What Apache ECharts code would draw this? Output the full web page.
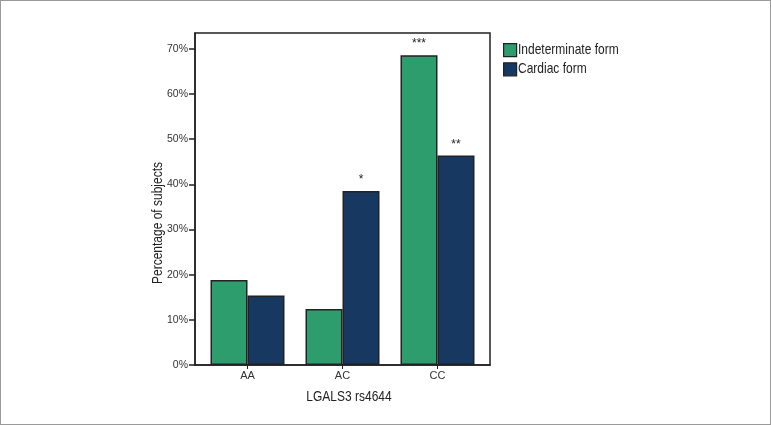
<!DOCTYPE html>
<html><head><meta charset="utf-8">
<script src="https://cdn.jsdelivr.net/npm/echarts@6/dist/echarts.min.js"></script>
<style>html,body{margin:0;padding:0;background:#fff}#c{width:771px;height:425px;box-sizing:border-box;border:1px solid #9a9a9a}</style>
</head><body><div id="c"></div>
<script>
const categories = ['AA', 'AC', 'CC'];
const seriesNames = ['Indeterminate form', 'Cardiac form'];
const indeterminate = [18.8, 12.4, 68.6];
const cardiac = [15.4, 38.5, 46.4];
const indeterminateMarks = ['', '', '***'];
const cardiacMarks = ['', '*', '**'];
const yTicks = [0, 10, 20, 30, 40, 50, 60, 70];
const xTitle = 'LGALS3 rs4644';
const yTitle = 'Percentage of subjects';
const yMax = 73.5;

const chart = echarts.init(document.getElementById('c'));
const font = '"Liberation Sans", Arial, sans-serif';
function lbl(marks){
  return {show:true, position:'top', distance:5, color:'#222', fontSize:12, fontFamily:font,
    formatter:p=>marks[p.dataIndex]};
}
function narrowText(text, x, y, opts){
  return Object.assign({type:'text', x:x, y:y, scaleX:0.8, silent:true,
    style:{text:text, fontFamily:font, fontSize:15, fill:'#222', textVerticalAlign:'middle', textAlign:'center'}}, opts||{});
}
const legendLabels = seriesNames.map((n,i)=>{
  const t = narrowText(n, 517, 49 + i*18.5);
  t.style.textAlign = 'left';
  return t;
});
chart.setOption({
  animation:false,
  grid:[
    {left:194, right:280, top:32, bottom:59, show:true, borderColor:'#222', borderWidth:1.5, backgroundColor:'transparent'},
    {left:199, right:285, top:32, bottom:59}
  ],
  legend:{
    left:502, top:42, padding:0, orient:'vertical', itemWidth:13, itemHeight:13, itemGap:5,
    icon:'rect', formatter:()=>'', textStyle:{fontSize:10, lineHeight:13, padding:0},
    data:seriesNames.map(n=>({name:n, itemStyle:{borderColor:'#222', borderWidth:1.2}}))
  },
  graphic:[
    narrowText(xTitle, 348, 396),
    Object.assign(narrowText(yTitle, 157, 222), {rotation:Math.PI/2}),
    ...legendLabels
  ],
  xAxis:[
    {type:'category', gridIndex:0, data:categories, axisLabel:{show:false}, axisTick:{show:false},
     axisLine:{lineStyle:{color:'#222', width:1.5}}},
    {type:'category', gridIndex:1, data:categories, position:'bottom',
     axisLine:{show:false},
     axisTick:{show:true, alignWithLabel:true, length:4, lineStyle:{color:'#222'}},
     axisLabel:{fontFamily:font, fontSize:11, color:'#333', margin:5}}
  ],
  yAxis:[
    {type:'value', gridIndex:0, min:0, max:yMax, interval:10,
     axisLine:{show:true, lineStyle:{color:'#222', width:1.5}},
     axisTick:{show:true, length:6, lineStyle:{color:'#222', width:1.5}},
     splitLine:{show:false},
     axisLabel:{fontFamily:font, fontSize:10.5, color:'#333', margin:7,
       formatter:v=>yTicks.includes(v)?v+'%':'', showMaxLabel:false}},
    {type:'value', gridIndex:1, min:0, max:yMax, show:false, splitLine:{show:false}}
  ],
  series:[
    {name:seriesNames[0], type:'bar', xAxisIndex:1, yAxisIndex:1, data:indeterminate, barWidth:37, barGap:'0%',
     itemStyle:{color:'#2E9D6E', borderColor:'#222', borderWidth:1.5}, label:lbl(indeterminateMarks)},
    {name:seriesNames[1], type:'bar', xAxisIndex:1, yAxisIndex:1, data:cardiac, barWidth:37,
     itemStyle:{color:'#173861', borderColor:'#222', borderWidth:1.5}, label:lbl(cardiacMarks)}
  ]
});
</script></body></html>
